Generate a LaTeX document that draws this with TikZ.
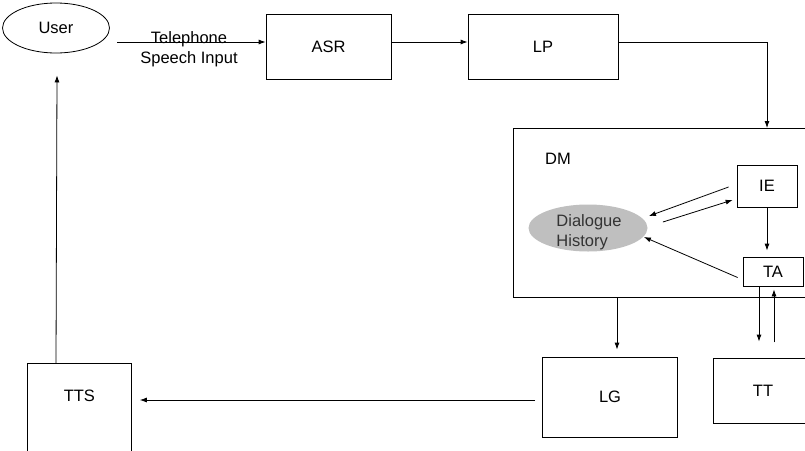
\documentclass[tikz,border=0pt]{standalone}
\usepackage{fontspec}
\setmainfont{Liberation Sans}
\usetikzlibrary{arrows.meta,shapes.geometric}

\begin{document}
\begin{tikzpicture}[x=1pt,y=-1pt,line width=0.8pt,
	box/.style={draw,rectangle,inner sep=0pt},
	arr/.style={-{Latex[length=7pt,width=5pt]}},
	every node/.style={font=\fontsize{16.5}{20}\selectfont}]

\useasboundingbox (0,0) rectangle (805,450);
\clip (0,0) rectangle (805,450);

% top row
\node[draw,ellipse,minimum width=107,minimum height=50,inner sep=0pt] (user) at (56,28) {User};
\node[box,minimum width=125,minimum height=65] (asr) at (328.5,46.5) {ASR};
\node[box,minimum width=150,minimum height=65] (lp) at (543,46.5) {LP};
\coordinate (phone) at (117,42);
\node[align=center,inner sep=0pt] (phonetxt) at (189,49) {Telephone\\Speech Input};

% dialogue manager
\node[box,minimum width=310,minimum height=169,anchor=north west] (dm) at (513,128) {};
\node[inner sep=0pt] (dmtxt) at (558,159) {DM};
\node[box,minimum width=60,minimum height=42] (ie) at (767,186) {IE};
\node[box,minimum width=60,minimum height=29] (ta) at (773,271.5) {TA};
\node[ellipse,fill=gray!50,minimum width=119,minimum height=47,inner sep=0pt] (dh) at (588,228) {};
\node[align=left,inner sep=0pt,text=black!80] (dhtxt) at (589,232) {Dialogue\\History};

% bottom row
\node[box,minimum width=135,minimum height=80] (lg) at (610,397) {LG};
\node[box,minimum width=100,minimum height=65] (tt) at (763,390.5) {TT};
\node[box,minimum width=104,minimum height=100,anchor=north west,
	label={[yshift=-42pt]north:TTS}] (tts) at (27,363) {};
\coordinate (lgout) at ([shift={(-7,3)}]lg.west);

% connectors
\draw[arr] (phone) -- (phone -| asr.west);
\draw[arr] (asr.east |- phone) -- (lp.west |- phone);
\draw[arr] (lp.east |- phone) -| (ie.north |- dm.north);
\draw[arr] ([shift={(-8,1)}]ie.west) -- ([shift={(1,-12)}]dh.east);
\draw[arr] ([shift={(15,-6)}]dh.east) -- ([shift={(-4,14)}]ie.west);
\draw[arr] (ie.south) -- ([shift={(0,-6)}]ie.south |- ta.north);
\draw[arr] ([shift={(-5,6)}]ta.west) -- ([shift={(-4,9)}]dh.east);
\draw[arr] ([xshift=-14pt]ta.south) -- ([shift={(-14,-16)}]ta.south |- tt.north);
\draw[arr] ([shift={(1,56)}]ta.south) -- ([shift={(1,3)}]ta.south);
\draw[arr] ([xshift=7pt]lg.north |- dm.south) -- ([shift={(7,-7)}]lg.north);
\draw[arr] (lgout) -- ([xshift=8pt]tts.east |- lgout);
\draw[arr] (user.south |- tts.north) -- ([shift={(1,22)}]user.south);

\end{tikzpicture}
\end{document}
